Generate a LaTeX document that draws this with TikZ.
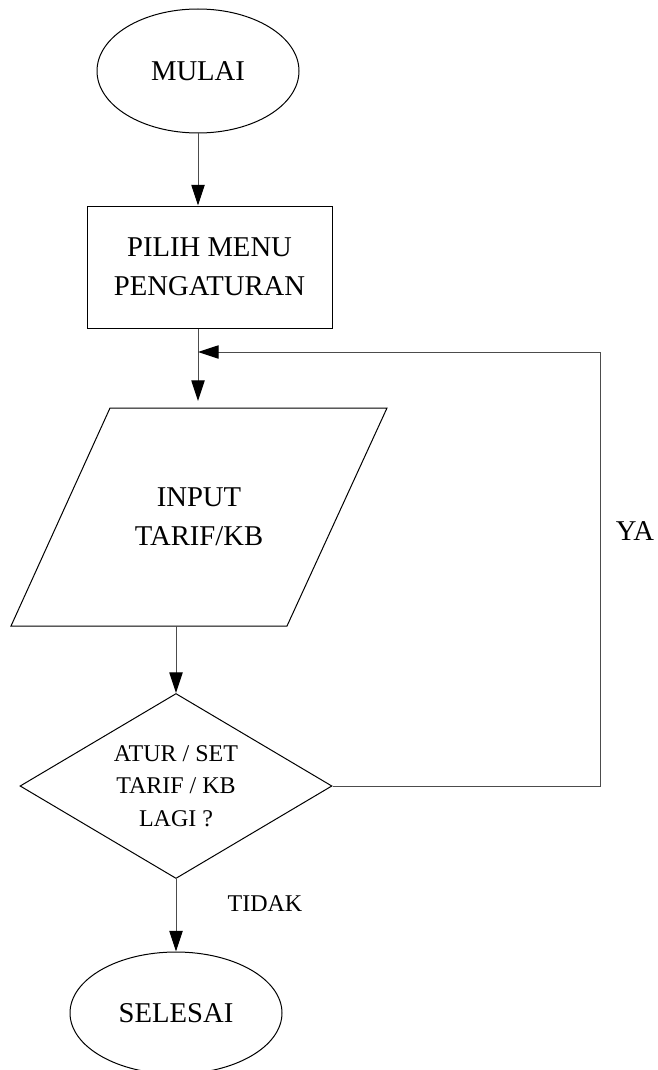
\documentclass[tikz,border=0pt]{standalone}
\usepackage{fontspec}
\setmainfont{Liberation Serif}
\usetikzlibrary{shapes.geometric,arrows.meta}
\begin{document}
\begin{tikzpicture}[x=0.75pt,y=-0.75pt,line width=0.75pt,
  teks/.style={font=\fontsize{21.5}{29}\selectfont,align=center},
  tekskecil/.style={font=\fontsize{18}{24.5}\selectfont,align=center},
  panah/.style={draw=black!70,-{Triangle[length=15.5pt,width=10pt,color=black]}}]
  \useasboundingbox (0,0) rectangle (657,1070);
%simbol
  \node[teks,draw,ellipse,minimum width=151.5pt,minimum height=93pt,inner sep=0pt] (mulai) at (198,71) {MULAI};
  \node[teks,draw,minimum width=183.75pt,minimum height=91.5pt] (pilih) at (209.5,267) {PILIH MENU\\PENGATURAN};
  \coordinate (inA) at (110,408);
  \coordinate (inB) at (387,408);
  \coordinate (inC) at (287,626);
  \coordinate (inD) at (11,626);
  \draw (inA) -- (inB) -- (inC) -- (inD) -- cycle;
  \node[teks] (input) at (199,517) {INPUT\\TARIF/KB};
  \node[tekskecil,draw,diamond,aspect=1.69,minimum width=234pt,minimum height=138.75pt,inner sep=0pt] (cek) at (176,786) {ATUR / SET\\TARIF / KB\\LAGI ?};
  \node[teks,draw,ellipse,minimum width=159pt,minimum height=91.5pt,inner sep=0pt] (selesai) at (176,1013) {SELESAI};
%garis alir
  \coordinate (masuk) at (198,401);
  \coordinate (keluar) at (176,626);
  \coordinate (balik) at (198,352);
  \coordinate (pojok) at (600,352);
  \draw[panah] (mulai.south) -- (mulai.south |- pilih.north);
  \draw[panah] (mulai.south |- pilih.south) -- (masuk);
  \draw[panah] (keluar) -- (cek.north);
  \draw[panah] (cek.east) -| (pojok) -- (balik);
  \draw[panah] (cek.south) -- (selesai.north);
%label
  \node[tekskecil] (tidak) at (265,904) {TIDAK};
  \node[teks] (ya) at (635,531) {YA};
\end{tikzpicture}
\end{document}
